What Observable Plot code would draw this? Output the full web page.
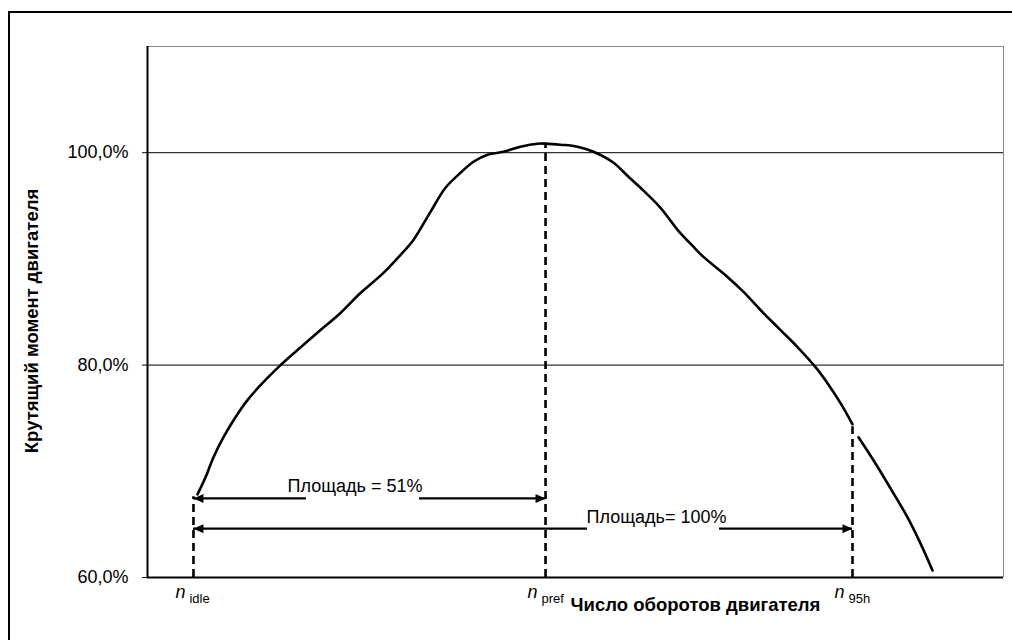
<!DOCTYPE html>
<html><head><meta charset="utf-8">
<script src="https://cdn.jsdelivr.net/npm/d3@7"></script>
<script src="https://cdn.jsdelivr.net/npm/@observablehq/plot@0.6"></script>
<style>
html,body{margin:0;padding:0;overflow:hidden;background:#fff;width:1012px;height:640px}
#chart{position:absolute;left:0;top:0}
#frame{position:absolute;left:8px;top:11px;width:1100px;height:700px;border-left:2.5px solid #000;border-top:2.5px solid #000;pointer-events:none}
</style></head><body>
<div id="chart"></div><div id="frame"></div>
<script>
// Engine torque curve (x: relative engine speed, y: torque in %)
const torqueX = [5.84, 6.78, 7.71, 8.88, 10.28, 11.68, 13.20, 15.54, 17.52, 20.21, 22.55, 24.88, 27.57, 29.56, 31.07, 33.06, 34.81, 36.57, 38.08, 39.72, 41.59, 43.57, 45.56, 46.50, 48.25, 50.23, 52.10, 54.44, 56.07, 57.59, 59.93, 61.92, 63.79, 64.95, 67.76, 69.63, 71.61, 73.95, 75.93, 78.04, 79.44, 80.96, 82.36, 82.70, 83.06, 84.81, 87.15, 88.79, 90.30, 91.71];
const torqueY = [67.83, 69.43, 71.32, 73.21, 75.09, 76.70, 78.11, 80.00, 81.42, 83.30, 84.91, 86.79, 88.68, 90.38, 91.79, 94.43, 96.70, 98.11, 99.15, 99.81, 100.09, 100.57, 100.85, 100.85, 100.75, 100.57, 100.09, 99.06, 97.83, 96.70, 94.81, 92.74, 91.13, 90.19, 88.30, 86.89, 85.19, 83.30, 81.70, 79.81, 78.30, 76.42, 74.43, null, 73.21, 71.04, 67.92, 65.66, 63.21, 60.66];

// Characteristic speeds
const speedNames = ["idle", "pref", "95h"];
const speedX = [5.37, 46.5, 82.36];
const speedTop = [67.6, 100.85, 74.2];

// Area annotations
const areaLabels = ["Площадь = 51%", "Площадь= 100%"];
const areaLevel = [67.45, 64.6];
const areaFrom = [5.37, 5.37];
const areaTo = [46.5, 82.36];
const areaLabelX = [24.24, 59.46];
const areaGapFrom = [18.57, 51.4];
const areaGapTo = [31.78, 66.82];

const yTicks = [60, 80, 100];
const xTitle = "Число оборотов двигателя";
const yTitle = "Крутящий момент двигателя";

const speeds = speedNames.map((name, i) => ({name, x: speedX[i], top: speedTop[i]}));
const curve = torqueX.map((x, i) => ({x, y: torqueY[i]}));
const areas = areaLabels.map((label, i) => ({label, y: areaLevel[i], from: areaFrom[i], to: areaTo[i], lx: areaLabelX[i], g1: areaGapFrom[i], g2: areaGapTo[i]}));
const areaSegs = areas.flatMap(a => [{y: a.y, x1: a.from, x2: a.g1}, {y: a.y, x1: a.g2, x2: a.to}]);

const headRight = {draw(ctx) { ctx.moveTo(0, 0); ctx.lineTo(-10, -4.5); ctx.lineTo(-10, 4.5); ctx.closePath(); }};
const headLeft = {draw(ctx) { ctx.moveTo(0, 0); ctx.lineTo(10, -4.5); ctx.lineTo(10, 4.5); ctx.closePath(); }};

const fmt = d => d.toFixed(1).replace(".", ",") + "%";

const chart = Plot.plot({
  width: 1012, height: 640,
  marginLeft: 147, marginRight: 9, marginTop: 46, marginBottom: 63,
  style: {fontFamily: "'Liberation Sans', Arial, sans-serif", fontSize: "18px", background: "white", color: "black", overflow: "visible"},
  x: {domain: [0, 100], axis: null},
  y: {domain: [60, 110], axis: null},
  marks: [
    Plot.ruleY([80, 100], {stroke: "black", strokeWidth: 1}),
    Plot.ruleY([110], {stroke: "#888", strokeWidth: 1}),
    Plot.ruleX([100], {stroke: "#888", strokeWidth: 1}),
    Plot.axisY({ticks: yTicks, tickSize: 5, tickPadding: 14, tickFormat: fmt, fontSize: 18, label: null}),
    Plot.ruleX(speeds, {x: "x", y1: 60, y2: "top", stroke: "black", strokeWidth: 2.6, strokeDasharray: "8,5"}),
    Plot.ruleY(areaSegs, {y: "y", x1: "x1", x2: "x2", stroke: "black", strokeWidth: 2.4}),
    Plot.dot(areas, {x: "from", y: "y", symbol: headLeft, fill: "black", stroke: "none", r: 4}),
    Plot.dot(areas, {x: "to", y: "y", symbol: headRight, fill: "black", stroke: "none", r: 4}),
    Plot.text(areas, {x: "lx", y: "y", text: "label", fontSize: 18, lineAnchor: "bottom", dy: -6}),
    Plot.line(curve, {x: "x", y: "y", stroke: "black", strokeWidth: 2.6, curve: "catmull-rom"}),
    Plot.ruleX([0], {stroke: "black", strokeWidth: 2}),
    Plot.ruleY([60], {stroke: "black", strokeWidth: 2}),
    Plot.text(speeds, {x: "x", y: 60, text: () => "n", fontStyle: "italic", fontSize: 18, textAnchor: "end", lineAnchor: "bottom", dx: -8, dy: 20}),
    Plot.text(speeds, {x: "x", y: 60, text: "name", fontSize: 13, textAnchor: "start", lineAnchor: "bottom", dx: -4, dy: 25}),
    Plot.text([xTitle], {frameAnchor: "bottom", textAnchor: "middle", dx: 120, dy: 33, lineAnchor: "bottom", fontWeight: "bold", fontSize: 18.5}),
    Plot.text([yTitle], {frameAnchor: "left", textAnchor: "middle", rotate: -90, dx: -115, dy: 9, fontWeight: "bold", fontSize: 18.5})
  ]
});
document.getElementById("chart").appendChild(chart);
</script></body></html>
